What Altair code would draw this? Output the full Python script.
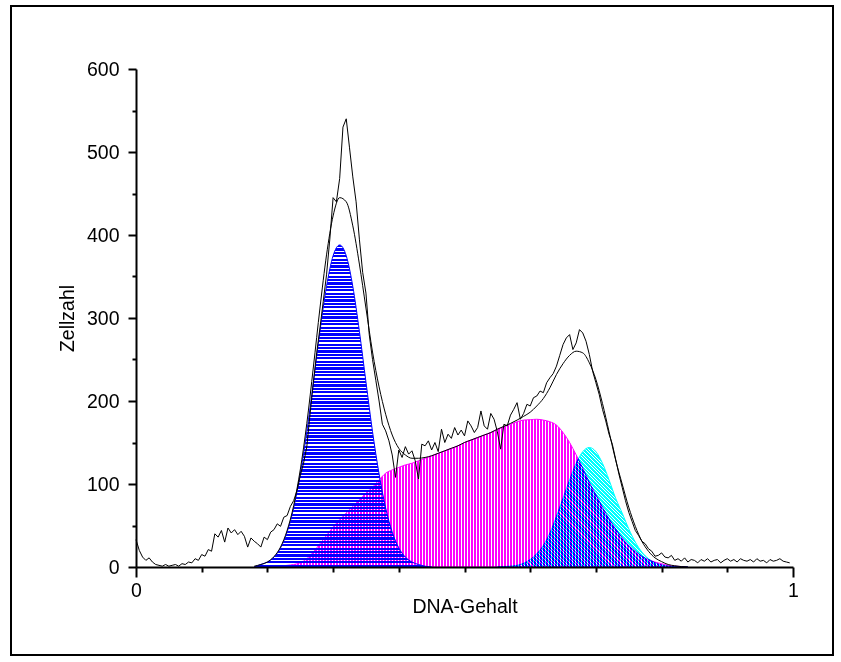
import altair as alt
import numpy as np
import pandas as pd

# ---------------- data ----------------
# noisy measured histogram, x = 0, 0.005, 0.010, ...
hist_v = [33, 20, 12, 8, 11, 6, 3, 2, 1, 3,
          1, 2, 3, 1, 4, 3, 6, 5, 10, 8,
          15, 13, 21, 19, 40, 36, 44, 30, 47, 41,
          45, 39, 43, 37, 24, 35, 31, 28, 24, 36,
          33, 42, 45, 52, 49, 60, 62, 73, 80, 92,
          110, 125, 145, 185, 222, 258, 288, 320, 352, 395,
          445, 440, 468, 530, 540, 505, 470, 440, 395, 355,
          330, 280, 250, 225, 200, 172, 164, 152, 135, 108,
          141, 132, 145, 136, 140, 128, 106, 148, 146, 152,
          141, 150, 139, 166, 150, 160, 155, 168, 159, 165,
          158, 176, 170, 162, 168, 188, 170, 166, 185, 178,
          163, 142, 172, 170, 183, 190, 198, 178, 185, 196,
          194, 204, 206, 212, 210, 222, 228, 233, 242, 255,
          268, 276, 280, 262, 270, 286, 282, 272, 256, 236,
          222, 208, 190, 176, 160, 148, 130, 112, 96, 80,
          66, 55, 44, 38, 31, 28, 22, 19, 13, 14,
          17, 12, 11, 14, 8, 10, 7, 11, 6, 9,
          8, 5, 9, 7, 10, 6, 8, 9, 5, 8,
          10, 7, 9, 6, 10, 8, 7, 9, 6, 10,
          7, 8, 5, 9, 7, 8, 10, 7, 6, 5]
hist_x = np.round(np.arange(len(hist_v)) * 0.005, 3)

# model components, x = 0.17, 0.18, ... 0.84
comp_x = np.round(0.17 + np.arange(68) * 0.01, 2)
g1_v = [0, 0, 3, 6, 12, 23, 42, 71, 112, 163,
        223, 284, 338, 375, 388, 375, 338, 284, 223, 163,
        112, 71, 42, 23, 12, 6, 3, 1, 0, 0,
        0, 0, 0, 0, 0, 0, 0, 0, 0, 0,
        0, 0, 0, 0, 0, 0, 0, 0, 0, 0,
        0, 0, 0, 0, 0, 0, 0, 0, 0, 0,
        0, 0, 0, 0, 0, 0, 0, 0]
s_v = [0, 0, 0, 0, 0.5, 1, 2, 3, 5, 10,
       18, 28, 38, 48, 57, 65, 73, 81, 89, 96,
       105, 113, 117, 120, 123, 125, 128, 131, 134, 137,
       140, 143, 146, 150, 153, 156, 159, 162, 166, 169,
       172, 175, 177, 177.5, 178, 177, 175, 171, 162, 150,
       135, 119, 102, 87, 72, 58, 46, 35, 26, 19,
       13, 9, 6, 4, 2, 1, 0.5, 0]
g2_v = [0, 0, 0, 0, 0, 0, 0, 0, 0, 0,
        0, 0, 0, 0, 0, 0, 0, 0, 0, 0,
        0, 0, 0, 0, 0, 0, 0, 0, 0, 0,
        0, 0, 0, 0, 0, 0, 0, 0, 0, 0.5,
        1, 2, 4.5, 9, 16, 26, 41, 61, 83, 105,
        125, 139, 144, 139, 125, 105, 83, 65, 46, 30,
        18, 10, 5, 2.5, 1, 0.5, 0, 0]
fit_v = [0, 1, 3, 6, 12.5, 24, 44, 74, 117, 173,
         241, 312, 376, 423, 445, 440, 411, 365, 312, 259,
         217, 184, 159, 143, 135, 131, 131, 132, 134, 137,
         140, 143, 146, 150, 153, 156, 159, 162, 166, 169.5,
         173, 177, 181.5, 186.5, 194, 203, 216, 232, 245, 255,
         260, 258, 246, 226, 197, 163, 129, 100, 72, 49,
         31, 19, 11, 6.5, 3, 1.5, 0.5, 0]

x_ticks = [0, 0.1, 0.2, 0.3, 0.4, 0.5, 0.6, 0.7, 0.8, 0.9, 1]
y_ticks = [0, 50, 100, 150, 200, 250, 300, 350, 400, 450, 500, 550, 600]

hist_df = pd.DataFrame({"x": hist_x, "v": hist_v})
comp_df = pd.DataFrame({"x": comp_x, "g1": g1_v, "s": s_v, "g2": g2_v, "fit": fit_v})
g1_df = comp_df[(comp_df.x >= 0.175) & (comp_df.x <= 0.455)][["x", "g1"]].rename(columns={"g1": "v"})
s_df = comp_df[(comp_df.x >= 0.195)][["x", "s"]].rename(columns={"s": "v"})
g2_df = comp_df[(comp_df.x >= 0.545)][["x", "g2"]].rename(columns={"g2": "v"})
fit_df = comp_df[(comp_df.x >= 0.175)][["x", "fit"]].rename(columns={"fit": "v"})

W, H = 657, 498
PX_X = W / 1.0
PX_Y = H / 600.0
CLEAR = "rgba(255,255,255,0)"


def stripe_stops(length_px, period, on_px, color):
    stops = []
    k = 0
    while k * period < length_px:
        a = k * period / length_px
        b = min((k * period + on_px) / length_px, 1.0)
        c = min((k + 1) * period / length_px, 1.0)
        stops += [alt.GradientStop(offset=a, color=color),
                  alt.GradientStop(offset=b, color=color),
                  alt.GradientStop(offset=b, color=CLEAR),
                  alt.GradientStop(offset=c, color=CLEAR)]
        k += 1
    return stops


# magenta: vertical stripes across the bbox width
s_w = (float(s_df.x.max()) - float(s_df.x.min())) * PX_X
s_fill = alt.LinearGradient(gradient="linear", x1=0, y1=0, x2=1, y2=0,
                            stops=stripe_stops(s_w, 3.0, 2.0, "#ff00ff"))
# blue: horizontal stripes across the bbox height
g1_h = float(g1_df.v.max()) * PX_Y
g1_fill = alt.LinearGradient(gradient="linear", x1=0, y1=0, x2=0, y2=1,
                             stops=stripe_stops(g1_h, 3.4, 2.2, "#0000ff"))
# cyan: diagonal stripes (\) at 45 degrees
g2_w = (float(g2_df.x.max()) - float(g2_df.x.min())) * PX_X
g2_h = float(g2_df.v.max()) * PX_Y
r = g2_h / g2_w
span = (1 + r) / (1 + r * r)
g2_len = (g2_w + g2_h) / np.sqrt(2)
g2_fill = alt.LinearGradient(gradient="linear", x1=0, y1=1, x2=float(span), y2=float(1 - r * span),
                             stops=stripe_stops(g2_len, 2.6, 1.8, "#00ffff"))

xs = alt.Scale(domain=[0, 1], nice=False)
ys = alt.Scale(domain=[0, 600], nice=False)

FONT = "Liberation Sans"
FS = 19.5

ax_x = alt.Axis(values=x_ticks, format="~g",
                labelExpr="(datum.value == 0 || datum.value == 1) ? datum.label : ''",
                tickSize={"condition": {"test": "datum.value == 0 || datum.value == 1", "value": 10},
                          "value": 5},
                tickWidth=2, domainWidth=2, domainColor="black", tickColor="black",
                labelFont=FONT, labelFontSize=FS, labelColor="black", labelPadding=4,
                labelFlush=False, labelOverlap=False,
                grid=False, title="DNA-Gehalt",
                titleFont=FONT, titleFontSize=FS, titleFontWeight="normal", titleColor="black",
                titleY=45, titleBaseline="alphabetic")
ax_y = alt.Axis(values=y_ticks, format="d",
                labelExpr="(datum.value % 100 == 0) ? datum.label : ''",
                tickSize={"condition": {"test": "datum.value % 100 == 0", "value": 8}, "value": 4},
                tickWidth=2, domainWidth=2, domainColor="black", tickColor="black",
                labelFont=FONT, labelFontSize=FS, labelColor="black", labelPadding=9,
                labelFlush=False, labelOverlap=False,
                grid=False, title="Zellzahl",
                titleFont=FONT, titleFontSize=FS, titleFontWeight="normal", titleColor="black",
                titleX=-59, titleY=249, titleAngle=-90, titleAlign="center",
                titleBaseline="bottom")

X = alt.X("x:Q", scale=xs, axis=ax_x)
Y = alt.Y("v:Q", scale=ys, axis=ax_y)

s_area = alt.Chart(s_df).mark_area(
    interpolate="monotone", blend="multiply", color=s_fill,
    stroke="#ff00ff", strokeWidth=1
).encode(x=X, y=Y)

g1_area = alt.Chart(g1_df).mark_area(
    interpolate="monotone", blend="multiply", color=g1_fill,
    stroke="#0000ff", strokeWidth=1
).encode(x=X, y=Y)

g2_area = alt.Chart(g2_df).mark_area(
    interpolate="monotone", blend="multiply", color=g2_fill,
    stroke="#00ffff", strokeWidth=1
).encode(x=X, y=Y)

fit_line = alt.Chart(fit_df).mark_line(
    interpolate="monotone", color="black", strokeWidth=1
).encode(x=X, y=Y)

hist_line = alt.Chart(hist_df).mark_line(
    color="black", strokeWidth=1
).encode(x=X, y=Y)

frame = alt.Chart(pd.DataFrame({"a": [0]})).mark_rect(
    filled=False, stroke="black", strokeWidth=2, fill=None
).encode(x=alt.value(-125), x2=alt.value(697), y=alt.value(-63), y2=alt.value(586))

chart = alt.layer(s_area, g1_area, g2_area, fit_line, hist_line, frame).properties(
    width=W, height=H,
    autosize=alt.AutoSizeParams(type="none"),
    padding={"left": 136, "top": 69, "right": 48, "bottom": 95},
    background="white",
).configure_view(stroke=None)

chart.save("out.html", embed_options={"renderer": "svg", "actions": False})
